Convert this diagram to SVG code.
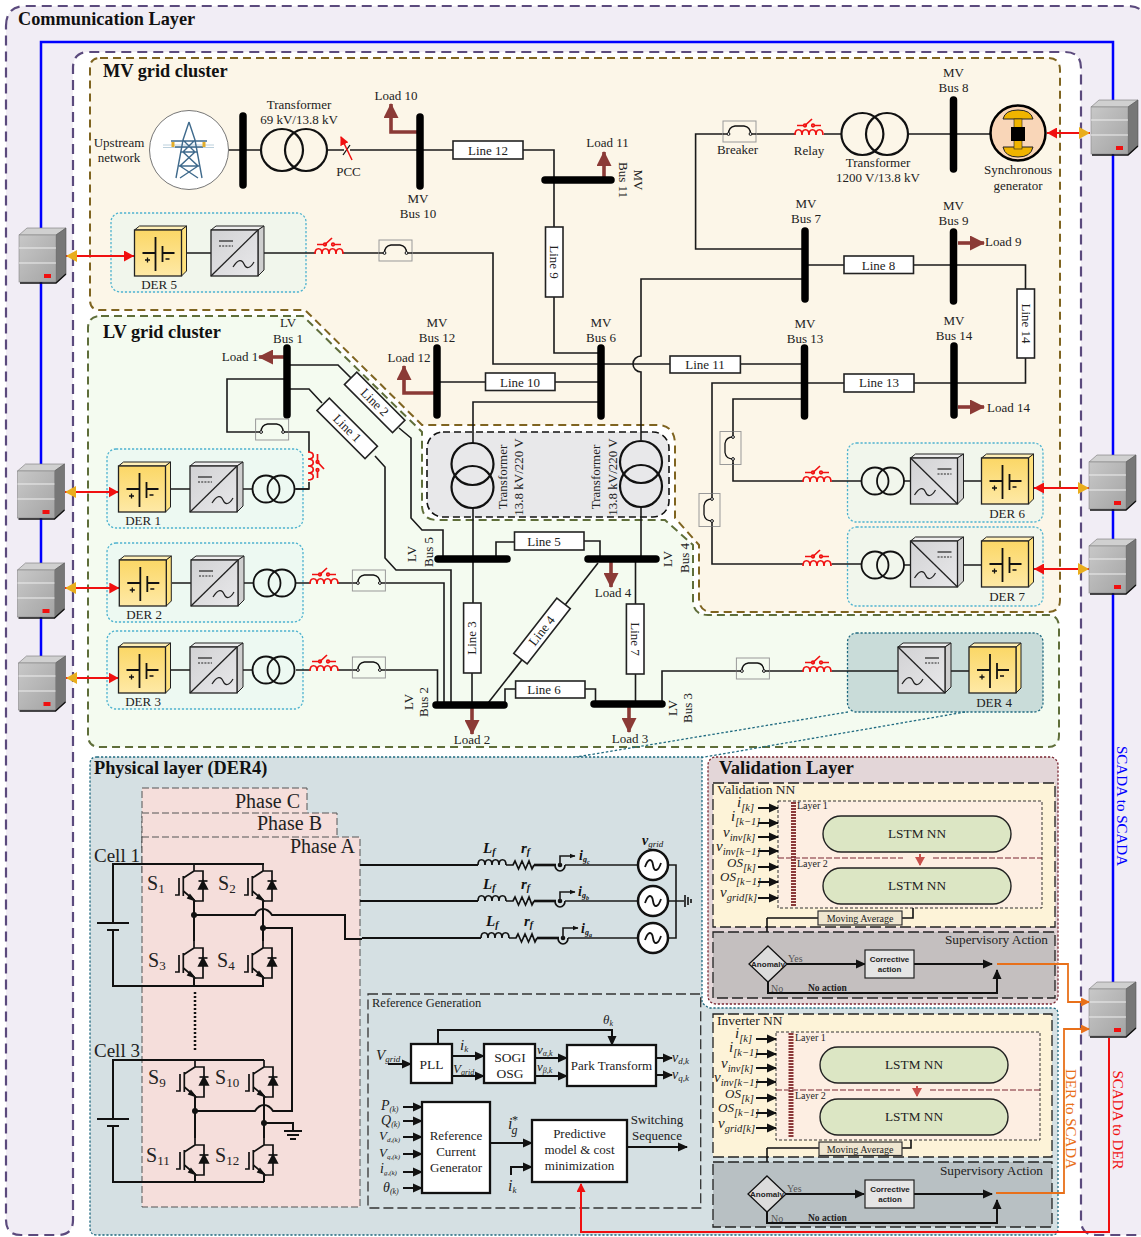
<svg xmlns="http://www.w3.org/2000/svg" width="1141" height="1237" viewBox="0 0 1141 1237">
<style>
text{font-family:"Liberation Serif",serif;fill:#222;font-size:13px}
.c{text-anchor:middle}.e{text-anchor:end}
.h{font-weight:bold;font-size:18.300px;fill:#111}
.i{font-style:italic}.bi{font-style:italic;font-weight:bold;fill:#111}
.s{font-family:"Liberation Sans",sans-serif;font-weight:bold;font-size:8px}
.w{fill:none;stroke:#1a1a1a;stroke-width:1.6}
.k{fill:none;stroke:#111;stroke-width:2}
.a{fill:none;stroke:#111;stroke-width:2;marker-end:url(#ab)}
.bus{stroke:#000;stroke-width:7.5;stroke-linecap:round;fill:none}
.ln{fill:#fff;stroke:#222;stroke-width:1.6}
.load{fill:none;stroke:#8b3a36;stroke-width:3.6;marker-end:url(#lh)}
.der{stroke:#4fb3cf;stroke-width:1.3;stroke-dasharray:2.2 1.8}
.link{fill:none;stroke:#f01010;stroke-width:2;marker-end:url(#rh);marker-start:url(#gh)}
.tx{fill:none;stroke:#111;stroke-width:2.2}
.blk{fill:#fff;stroke:#111;stroke-width:2.3}
.lstm{fill:#dce6c4;stroke:#222;stroke-width:1.4}
.lay{fill:#fdeee2;stroke:#333;stroke-width:1;stroke-dasharray:3 2}
.nn{stroke:#222;stroke-width:1.3;stroke-dasharray:11 4}
.ph{fill:#f5dedb;stroke:#555;stroke-width:1;stroke-dasharray:7 3}
.ma{fill:#efe6d0;stroke:#333;stroke-width:1.2}
.nnv{font-size:15px;font-style:italic}
.nno{font-size:13px;font-style:italic}
.sb{font-size:10.500px}
.big{font-size:20px}
.cell{font-size:19px}
.ls{font-size:13.300px}
.mva{font-size:10px}
.sup{font-size:13.300px}
</style>
<defs>
<linearGradient id="gs" x1="0" x2="1" y1="0" y2="1"><stop offset="0" stop-color="#c8c8c8"/><stop offset="1" stop-color="#a4a4a4"/></linearGradient>
<linearGradient id="gy" x1="0" x2="0" y1="0" y2="1"><stop offset="0" stop-color="#fbd766"/><stop offset="1" stop-color="#fee9a6"/></linearGradient>
<linearGradient id="gi" x1="0" x2="1" y1="0" y2="1"><stop offset="0" stop-color="#d2d2d4"/><stop offset="1" stop-color="#e8e8ea"/></linearGradient>
<marker id="ab" markerUnits="userSpaceOnUse" markerWidth="10" markerHeight="10" refX="9" refY="5" orient="auto"><path d="M0 0.5L10 5L0 9.5z" fill="#111"/></marker>
<marker id="as" markerUnits="userSpaceOnUse" markerWidth="6" markerHeight="6" refX="5.5" refY="3" orient="auto"><path d="M0 0.5L6 3L0 5.5z" fill="#111"/></marker>
<marker id="lh" markerUnits="userSpaceOnUse" markerWidth="16" markerHeight="15" refX="14" refY="7.5" orient="auto"><path d="M0 0L15 7.5L0 15z" fill="#8b3a36"/></marker>
<marker id="rh" markerUnits="userSpaceOnUse" markerWidth="10" markerHeight="11" refX="10" refY="5.5" orient="auto"><path d="M0 0L10 5.5L0 11z" fill="#f01010"/></marker>
<marker id="gh" markerUnits="userSpaceOnUse" markerWidth="11" markerHeight="12" refX="11" refY="6" orient="auto-start-reverse"><path d="M0 0L11 6L0 12z" fill="#e9ad1d"/></marker>
<marker id="oh" markerUnits="userSpaceOnUse" markerWidth="9" markerHeight="9" refX="8" refY="4.5" orient="auto"><path d="M0 0L9 4.5L0 9z" fill="#e8701a"/></marker>
<marker id="rr" markerUnits="userSpaceOnUse" markerWidth="9" markerHeight="9" refX="8" refY="4.5" orient="auto"><path d="M0 0L9 4.5L0 9z" fill="#f01010"/></marker>
<marker id="bh" markerUnits="userSpaceOnUse" markerWidth="9" markerHeight="10" refX="8" refY="5" orient="auto"><path d="M0 0L9 5L0 10z" fill="#c8504c"/></marker>
<g id="server">
<polygon points="0,7 8,0 47,0 37,7" fill="#d0d0d0" stroke="#777" stroke-width=".6"/>
<polygon points="37,7 47,0 47,46 37,55" fill="#777" stroke="#555" stroke-width=".6"/>
<rect x="0" y="7" width="37" height="47" fill="url(#gs)" stroke="#888" stroke-width=".6"/>
<path d="M0 20H37M0 35H37" stroke="#eee" stroke-width="1"/>
<path d="M1 55H37L47 46" stroke="#111" stroke-width="1.4" fill="none"/>
<rect x="25" y="46" width="7" height="4" fill="#f01010"/>
</g>
<g id="dc">
<polygon points="0,4 5,0 52,0 47,4" fill="#fff0b8" stroke="#222" stroke-width="1"/>
<polygon points="47,4 52,0 52,45 47,50" fill="#ffe27e" stroke="#222" stroke-width="1"/>
<rect x="0" y="4" width="47" height="46" fill="url(#gy)" stroke="#222" stroke-width="1.3"/>
<path d="M8 27H21M21 11V45M28 20V36M28 27H40" stroke="#111" stroke-width="1.8" fill="none"/>
<path d="M10.500 34H15.500M13 31.500V36.500M31 33H35" stroke="#111" stroke-width="1.3" fill="none"/>
</g>
<g id="inv">
<polygon points="0,4 5,0 53,0 47,4" fill="#eee" stroke="#222" stroke-width="1"/>
<polygon points="47,4 53,0 53,44 47,50" fill="#cfcfcf" stroke="#222" stroke-width="1"/>
<rect x="0" y="4" width="47" height="46" fill="url(#gi)" stroke="#222" stroke-width="1.3"/>
<path d="M0 50L47 4" stroke="#222" stroke-width="1.3"/>
<path d="M8 15H22" stroke="#222" stroke-width="1.2"/><path d="M8 20H22" stroke="#222" stroke-width="1.2" stroke-dasharray="2 1.200"/>
<path d="M22 41C27 33 31 33 33 38C35 43 39 43 43 36" stroke="#222" stroke-width="1.200" fill="none"/>
</g>
<g id="invr">
<polygon points="0,4 5,0 53,0 47,4" fill="#eee" stroke="#222" stroke-width="1"/>
<polygon points="47,4 53,0 53,44 47,50" fill="#cfcfcf" stroke="#222" stroke-width="1"/>
<rect x="0" y="4" width="47" height="46" fill="url(#gi)" stroke="#222" stroke-width="1.3"/>
<path d="M0 4L47 50" stroke="#222" stroke-width="1.3"/>
<path d="M27 15H41" stroke="#222" stroke-width="1.2"/><path d="M27 20H41" stroke="#222" stroke-width="1.2" stroke-dasharray="2 1.200"/>
<path d="M4 41C9 33 13 33 15 38C17 43 21 43 25 36" stroke="#222" stroke-width="1.200" fill="none"/>
</g>
<g id="relay" fill="none" stroke="#f01010" stroke-width="1.7">
<path d="M0 1C0 -6 7 -6 7 1M7 1C7 -6 14 -6 14 1M14 1C14 -6 21 -6 21 1M21 1C21 -6 28 -6 28 1"/>
<path d="M2 -8.500H9M19 -8.500H26M10 -8.500L17 -15"/>
<circle cx="10" cy="-8.500" r="1.300"/><circle cx="18" cy="-8.500" r="1.300"/>
</g>
<g id="brk">
<rect x="0" y="0" width="33" height="21" fill="none" stroke="#999" stroke-width="1"/>
<path d="M0 13H5.500M27.500 13H33" stroke="#1a1a1a" stroke-width="1.600"/>
<path d="M5.500 13Q5.500 6 12 5H21Q27.500 6 27.500 13" fill="none" stroke="#111" stroke-width="1.300"/>
<circle cx="5.500" cy="13" r="1.400" fill="#fff" stroke="#111"/><circle cx="27.500" cy="13" r="1.400" fill="#fff" stroke="#111"/>
</g>
<g id="igbt" fill="none" stroke="#111" stroke-width="1.7">
<path d="M0 0V7H9V37H0M0 7L-10.700 14M-10.700 27L0 36V37"/>
<path d="M-10.700 12V32M-15 14V31H-19"/>
<path d="M4.500 17H13.500"/>
<path d="M9 17L4.800 25H13.200z" fill="#111"/>
<path d="M-4 31L0 36L-6 34z" fill="#111"/>
</g>
<g id="ac"><circle r="15" fill="#fff" stroke="#111" stroke-width="2.500"/><path d="M-8 2C-5 -7 -1 -7 0 0C1 7 5 7 8 -2" fill="none" stroke="#111" stroke-width="1.800"/></g>
<g id="rl" fill="none" stroke="#111" stroke-width="1.700">
<path d="M0 0C0 -7 7 -7 7 0C7 -7 14 -7 14 0C14 -7 21 -7 21 0C21 -7 28 -7 28 0"/>
<path d="M28 0H35L37 -4L40.500 4L44 -4L47.500 4L51 -4L54 4L56 0"/>
<path d="M56 0H78" stroke-width="2.600"/>
<path d="M77 0A5 6 0 0 0 87 0" /></g>
</defs>

<g id="background">
<rect x="0" y="0" width="1141" height="1237" fill="#fff"/>
<path d="M6 26Q6 6 26 6H1128Q1146 6 1146 24V1235H1096Q1081 1235 1081 1220V68Q1081 52 1065 52H89Q73 52 73 68V1220Q73 1235 58 1235H21Q6 1235 6 1220Z" fill="#f1edf5" stroke="#5b4a7d" stroke-width="2.200" stroke-dasharray="10 6"/>
<path d="M41 660V42H1113V985" fill="none" stroke="#0000ff" stroke-width="2.500"/>
</g>

<g id="clusters">
<path id="mv-cluster" d="M100 58H1048Q1060 58 1060 70V600Q1060 612 1048 612H712Q699 612 699 598V545L675 518V445Q675 425 657 425H422L305 310H100Q90 310 90 300V68Q90 58 100 58Z" fill="#fcf6e8" stroke="#7f6420" stroke-width="2" stroke-dasharray="8 5"/>
<path id="lv-cluster" d="M101 316H303L422 432V505Q422 520 437 520H665L693 545V600Q693 615 708 615H1048Q1059 615 1059 628V735Q1059 747 1048 747H100Q88 747 88 735V328Q88 316 101 316Z" fill="#f4fbf0" stroke="#5f6e3a" stroke-width="2" stroke-dasharray="8 5"/>
<rect id="tx-box" x="427" y="432" width="242" height="85" rx="16" fill="#e8e8ea" stroke="#111" stroke-width="1.600" stroke-dasharray="7 4"/>
<text class="h" x="18" y="25">Communication Layer</text>
<text class="h" x="103" y="77">MV grid cluster</text>
<text class="h" x="103" y="338">LV grid cluster</text>
</g>

<g id="der-boxes">
<rect class="der" x="111" y="213" width="195" height="79" rx="9" fill="#f1f6ec"/>
<rect class="der" x="107" y="449" width="196" height="79" rx="9" fill="#edf9f2"/>
<rect class="der" x="107" y="543" width="196" height="79" rx="9" fill="#edf9f2"/>
<rect class="der" x="107" y="631" width="196" height="78" rx="9" fill="#edf9f2"/>
<rect class="der" x="847.500" y="443" width="195.500" height="79" rx="9" fill="#f1f6ec"/>
<rect class="der" x="847.500" y="527" width="195.500" height="79" rx="9" fill="#f1f6ec"/>
<rect x="847.500" y="633" width="195.500" height="79" rx="9" fill="#c9dcd9" stroke="#1f6a80" stroke-width="1.300" stroke-dasharray="2.200 1.800"/>
</g>

<g id="connectors">
<path class="w" d="M228 150H262M327 150H344M350 150H453M523 150H554V227M554 297V353H601"/>
<path class="w" d="M264 253H315M343 253H379M412 253H493V364H670M740 364H805"/>
<path class="w" d="M437 382H485.500M555 382H601"/>
<path class="w" d="M473 443V402H601"/>
<path class="w" d="M641 440V372A8 8 0 0 1 641 356V279H805"/>
<path class="w" d="M723 134H695.600V249H805M756 134H795M824 134H841M908 134H990"/>
<path class="w" d="M805 265H844M913.500 265H1025.500V289M1025.500 358V383H914M844 383H712V494M712 526V564H803M831.500 564H861"/>
<path class="w" d="M805 399H733V432M733 463V481H803M831.500 481H861"/>
<path class="w" d="M287 379H227V432H255.600M288.600 432H309V452M309 482V489H296"/>
<path class="w" d="M287 389H309L322 403M375 456L385 467V558L396 570H451V705"/>
<path class="w" d="M287 365H338L351 378M399 428L411 438V518L422 530H443V559"/>
<path class="w" d="M496 559V542H514.500M584 541H600V559"/>
<path class="w" d="M473 508V603M472 673V705"/>
<path class="w" d="M641 507V559M635.500 559V604M635.500 674V704"/>
<path class="w" d="M486.500 705L598 563"/>
<path class="w" d="M505 705V689H515.600M585 689H595.500V704"/>
<path class="w" d="M338 583H352.400M385 583H444V705M338 670H352.400M385 670H437.500V705"/>
<path class="w" d="M662 704V671H736.400M768.800 671H803M831.500 671H898M945 671H969"/>
<path class="w" d="M296 583H310M296 670H310M171 489H190M237 489H252M172 583H191M238 583H253M171 670H190M237 670H252M904 481H910.500M957 481H981.500M904 565H910.500M957 565H981.500M171 253H211M258 253H264"/>
<path class="w" d="M295 489H309"/>

<path class="load" d="M420 132H391V104"/>
<path class="load" d="M604 180V152"/>
<path class="load" d="M958 243H984"/>
<path class="load" d="M958 407H984"/>
<path class="load" d="M287 357H259"/>
<path class="load" d="M437 393H404V366"/>
<path class="load" d="M472 705V734"/>
<path class="load" d="M611 559V587"/>
<path class="load" d="M629 704V732"/>

<path class="link" d="M66 256H134"/>
<path class="link" d="M65 492H118.500"/>
<path class="link" d="M65 588H119.300"/>
<path class="link" d="M66 678H118.500"/>
<path class="link" d="M1090 133H1047"/>
<path class="link" d="M1089 488H1034"/>
<path class="link" d="M1089 569H1034"/>
<path d="M848 712L570 758M965 712L699 758" fill="none" stroke="#1f6a80" stroke-width="1.300" stroke-dasharray="2.500 2"/>
</g>

<g id="upstream"><circle cx="189" cy="150" r="39.500" fill="#fff" stroke="#777" stroke-width="1"/>
<path d="M163 145H214M163 147.500H214" stroke="#bcd0dc" stroke-width="1"/>
<path d="M189 122L183 140L176 178M189 122L195 140L202 178M171 141H207M175 147H203M183 140L195 152L180 166L198 178M195 140L183 152L198 166L180 178M181 152H197M179 166H199" fill="none" stroke="#3f6a8c" stroke-width="1.400"/>
<rect x="171.500" y="142" width="3" height="5" fill="#e2ad2a"/><rect x="202.500" y="142" width="3" height="5" fill="#e2ad2a"/>
<text class="c" x="119" y="147">Upstream</text><text class="c" x="119" y="162">network</text></g>
<g id="bus-up"><path class="bus" d="M243 116V185"/></g>
<g id="tx-69"><circle class="tx" cx="282" cy="150" r="21"/><circle class="tx" cx="306" cy="150" r="21"/><text class="c" x="299" y="109">Transformer</text><text class="c" x="299" y="124">69 kV/13.8 kV</text></g>
<g id="pcc"><path d="M343 155L350 145" stroke="#111" stroke-width="1.300"/><path d="M352 160L341 137" stroke="#f01010" stroke-width="1.500" marker-end="url(#rr)"/><text class="c" x="348.500" y="176">PCC</text></g>
<g id="bus10"><path class="bus" d="M420 117V186"/><text class="c" x="418" y="203">MV</text><text class="c" x="418" y="218">Bus 10</text><text class="c" x="396" y="100">Load 10</text></g>
<g id="line12"><rect class="ln" x="453" y="141" width="70" height="18"/><text class="c" x="488" y="155">Line 12</text></g>
<g id="bus11"><path class="bus" d="M545 180H611"/><text class="c" x="607.500" y="147">Load 11</text><text class="c" transform="translate(634 180) rotate(90)">MV</text><text class="c" transform="translate(619 180) rotate(90)">Bus 11</text></g>
<g id="line9"><rect class="ln" x="545.500" y="227" width="17.500" height="70"/><text class="c" transform="translate(550 262) rotate(90)">Line 9</text></g>
<g id="der5"><use href="#dc" x="134.500" y="226"/><use href="#inv" x="211" y="226"/><use href="#relay" x="315" y="253"/><use href="#brk" x="379" y="240"/><text class="c" x="159" y="289">DER 5</text></g>
<g id="server-der5"><use href="#server" x="19" y="228"/></g>
<g id="breaker-top"><use href="#brk" x="723" y="121"/><text class="c" x="737.500" y="154">Breaker</text></g>
<g id="relay-top"><use href="#relay" x="795" y="134"/><text class="c" x="809" y="155">Relay</text></g>
<g id="tx-1200"><circle class="tx" cx="862.400" cy="134" r="21"/><circle class="tx" cx="887" cy="134" r="21"/><text class="c" x="878" y="167">Transformer</text><text class="c" x="878" y="182">1200 V/13.8 kV</text></g>
<g id="bus8"><path class="bus" d="M953.500 100V169"/><text class="c" x="953.500" y="77">MV</text><text class="c" x="953.500" y="92">Bus 8</text></g>
<g id="generator"><circle cx="1018" cy="133" r="27.500" fill="#f9d6b8" stroke="#000" stroke-width="2.500"/>
<path d="M1003 119Q1005 110 1018 110Q1031 110 1033 119ZM1003 147Q1005 157 1018 157Q1031 157 1033 147Z" fill="#f0b400" stroke="#222"/>
<rect x="1014" y="119" width="8" height="30" fill="#f0b400" stroke="#222" stroke-width=".6"/><rect x="1011" y="127" width="14" height="14" fill="#000"/>
<text class="c" x="1018" y="174">Synchronous</text><text class="c" x="1018" y="190">generator</text></g>
<g id="server-sg"><use href="#server" x="1091" y="100"/></g>
<g id="bus7"><path class="bus" d="M805 231V299"/><text class="c" x="806" y="208">MV</text><text class="c" x="806" y="223">Bus 7</text></g>
<g id="bus9"><path class="bus" d="M953.500 232V301"/><text class="c" x="953.500" y="210">MV</text><text class="c" x="953.500" y="225">Bus 9</text><text x="985" y="246">Load 9</text></g>
<g id="line8"><rect class="ln" x="844" y="256" width="69.500" height="17.500"/><text class="c" x="878.500" y="269.500">Line 8</text></g>
<g id="line14"><rect class="ln" x="1017" y="289" width="17.500" height="69"/><text class="c" transform="translate(1021.500 323.500) rotate(90)">Line 14</text></g>
<g id="bus6"><path class="bus" d="M601 348V416"/><text class="c" x="601" y="327">MV</text><text class="c" x="601" y="342">Bus 6</text></g>
<g id="bus13"><path class="bus" d="M804.500 348V416"/><text class="c" x="805" y="328">MV</text><text class="c" x="805" y="343">Bus 13</text></g>
<g id="bus14"><path class="bus" d="M954 346V415"/><text class="c" x="954" y="325">MV</text><text class="c" x="954" y="340">Bus 14</text><text x="987" y="412">Load 14</text></g>
<g id="line11"><rect class="ln" x="670" y="356" width="70.400" height="17"/><text class="c" x="705" y="369">Line 11</text></g>
<g id="line13"><rect class="ln" x="844" y="374" width="70" height="18"/><text class="c" x="879" y="387">Line 13</text></g>
<g id="line10"><rect class="ln" x="485.500" y="373" width="69.500" height="17.500"/><text class="c" x="520" y="386.500">Line 10</text></g>
<g id="bus12"><path class="bus" d="M437 348V415"/><text class="c" x="437" y="327">MV</text><text class="c" x="437" y="342">Bus 12</text><text class="c" x="409" y="362">Load 12</text></g>
<g id="bus1"><path class="bus" d="M287 348V415"/><text class="c" x="288" y="327">LV</text><text class="c" x="288" y="343">Bus 1</text><text class="c" x="240" y="361">Load 1</text></g>
<g id="line2"><rect class="ln" x="-34" y="-9" width="68" height="17.500" transform="translate(374.500 402.500) rotate(45)"/><text class="c" transform="translate(374.500 402.500) rotate(45) translate(0 4)">Line 2</text></g>
<g id="line1"><rect class="ln" x="-34" y="-9" width="68" height="17.500" transform="translate(347 428.500) rotate(45)"/><text class="c" transform="translate(347 428.500) rotate(45) translate(0 4)">Line 1</text></g>
<g id="tx-lv1"><circle class="tx" cx="472.500" cy="464" r="21"/><circle class="tx" cx="472.500" cy="487" r="21"/><text class="c" transform="translate(507 477) rotate(-90)">Transformer</text><text class="c" transform="translate(523 477) rotate(-90)">13.8 kV/220 V</text></g>
<g id="tx-lv2"><circle class="tx" cx="641" cy="462" r="21"/><circle class="tx" cx="641" cy="486" r="21"/><text class="c" transform="translate(600 477) rotate(-90)">Transformer</text><text class="c" transform="translate(617 477) rotate(-90)">13.8 kV/220 V</text></g>
<g id="breaker-der6"><use href="#brk" transform="translate(720 464.500) rotate(-90)"/></g>
<g id="breaker-der7"><use href="#brk" transform="translate(699 526.500) rotate(-90)"/></g>
<g id="der6"><use href="#relay" x="803" y="481"/><circle class="tx" style="stroke-width:1.800" cx="875" cy="481" r="13.500"/><circle class="tx" style="stroke-width:1.800" cx="890.500" cy="481" r="13.500"/><use href="#invr" x="910.500" y="454"/><use href="#dc" x="981.500" y="454"/><text class="c" x="1007" y="518">DER 6</text></g>
<g id="der7"><use href="#relay" x="803" y="565"/><circle class="tx" style="stroke-width:1.800" cx="875" cy="565" r="13.500"/><circle class="tx" style="stroke-width:1.800" cx="890.500" cy="565" r="13.500"/><use href="#invr" x="910.500" y="537"/><use href="#dc" x="981.500" y="537"/><text class="c" x="1007" y="601">DER 7</text></g>
<g id="der4"><use href="#relay" x="803" y="671"/><use href="#brk" x="736.400" y="658"/><use href="#invr" x="898" y="643"/><use href="#dc" x="969" y="643"/><text class="c" x="994" y="707">DER 4</text></g>
<g id="server-der6"><use href="#server" x="1089" y="455"/></g>
<g id="server-der7"><use href="#server" x="1089" y="539"/></g>
<g id="server-der1"><use href="#server" x="17.500" y="464"/></g>
<g id="server-der2"><use href="#server" x="17.500" y="563"/></g>
<g id="server-der3"><use href="#server" x="18.500" y="656"/></g>
<g id="der1"><use href="#dc" x="118.500" y="462"/><use href="#inv" x="190" y="462"/><circle class="tx" style="stroke-width:1.800" cx="266" cy="489" r="13.500"/><circle class="tx" style="stroke-width:1.800" cx="281" cy="489" r="13.500"/><use href="#relay" transform="translate(309 452) rotate(90)"/><use href="#brk" x="255.600" y="419"/><text class="c" x="143" y="525">DER 1</text></g>
<g id="der2"><use href="#dc" x="119.300" y="556"/><use href="#inv" x="191" y="556"/><circle class="tx" style="stroke-width:1.800" cx="267" cy="583" r="13.500"/><circle class="tx" style="stroke-width:1.800" cx="282" cy="583" r="13.500"/><use href="#relay" x="310" y="583"/><use href="#brk" x="352.400" y="570"/><text class="c" x="144" y="619">DER 2</text></g>
<g id="der3"><use href="#dc" x="118.500" y="643"/><use href="#inv" x="190" y="643"/><circle class="tx" style="stroke-width:1.800" cx="266" cy="670" r="13.500"/><circle class="tx" style="stroke-width:1.800" cx="281" cy="670" r="13.500"/><use href="#relay" x="310" y="670"/><use href="#brk" x="352.400" y="657"/><text class="c" x="143" y="706">DER 3</text></g>
<g id="bus5"><path class="bus" d="M438 559H507"/><text class="c" transform="translate(416 554) rotate(-90)">LV</text><text class="c" transform="translate(433 552) rotate(-90)">Bus 5</text></g>
<g id="bus4"><path class="bus" d="M588 559H656"/><text class="c" transform="translate(672 559) rotate(-90)">LV</text><text class="c" transform="translate(689 558) rotate(-90)">Bus 4</text><text class="c" x="613" y="597">Load 4</text></g>
<g id="bus2"><path class="bus" d="M436 705H504"/><text class="c" transform="translate(413 702) rotate(-90)">LV</text><text class="c" transform="translate(428 702) rotate(-90)">Bus 2</text><text class="c" x="472" y="744">Load 2</text></g>
<g id="bus3"><path class="bus" d="M594 704H662"/><text class="c" transform="translate(677 708) rotate(-90)">LV</text><text class="c" transform="translate(692 708) rotate(-90)">Bus 3</text><text class="c" x="630" y="743">Load 3</text></g>
<g id="line5"><rect class="ln" x="514.500" y="532" width="69.500" height="18"/><text class="c" x="544" y="546">Line 5</text></g>
<g id="line6"><rect class="ln" x="515.600" y="681" width="69.400" height="17"/><text class="c" x="544" y="694">Line 6</text></g>
<g id="line3"><rect class="ln" x="463.600" y="603" width="17.400" height="70"/><text class="c" transform="translate(476 638) rotate(-90)">Line 3</text></g>
<g id="line7"><rect class="ln" x="626.400" y="604" width="17.600" height="70"/><text class="c" transform="translate(631 639) rotate(90)">Line 7</text></g>
<g id="line4"><rect class="ln" x="-35" y="-8.500" width="70" height="17" transform="translate(542 631) rotate(-52)"/><text class="c" transform="translate(542 631) rotate(-52) translate(0 4)">Line 4</text></g>

<g id="physical-layer">
<path d="M97 757H702V1003L709 1008H1052Q1058 1008 1058 1014V1229Q1058 1235 1052 1235H97Q90 1235 90 1228V764Q90 757 97 757Z" fill="#d5e0e3" stroke="#1f6a80" stroke-width="1.300" stroke-dasharray="2.200 1.800"/>
<text class="h" x="94" y="774">Physical layer (DER4)</text>
<rect class="ph" x="142" y="788" width="165" height="60"/>
<rect class="ph" x="142" y="813" width="195" height="60"/>
<rect class="ph" x="142" y="837" width="218" height="370"/>
<text class="e big" x="300" y="808">Phase C</text>
<text class="e big" x="322" y="830">Phase B</text>
<text class="e big" x="355" y="853">Phase A</text>
<text class="cell" x="94" y="862">Cell 1</text>
<text class="cell" x="94" y="1057">Cell 3</text>
</g>
<g id="inverter-circuit">
<path class="k" d="M264 864H113V923M97 923H129M107 930H119M113 930V986H264"/>
<path class="k" d="M264 1060H113V1119M97 1119H129M107 1126H119M113 1126V1182H264"/>
<path class="k" d="M194 901V941M194 978V986M263 901V941M263 978V986M195 1097V1138M195 1175V1182M264 1097V1138M264 1175V1182"/>
<path class="k" d="M194 915H255Q258 909 263 909Q268 909 272 915H345V939H362"/>
<path class="k" d="M263 928H292V1111H273Q269 1105 264 1105Q259 1105 255 1111H195"/>
<path class="k" d="M264 1123H293V1131M284 1131H302M287 1135H299M290 1139H296"/>
<path d="M195 992V1050" stroke="#111" stroke-width="2.500" stroke-dasharray="2 2"/>
<circle cx="194" cy="915" r="3" fill="#111"/><circle cx="263" cy="928" r="3" fill="#111"/><circle cx="195" cy="1111" r="3" fill="#111"/><circle cx="264" cy="1123" r="3" fill="#111"/>
<use href="#igbt" x="194" y="864"/><use href="#igbt" x="263" y="864"/><use href="#igbt" x="194" y="941"/><use href="#igbt" x="263" y="941"/>
<use href="#igbt" x="195" y="1060"/><use href="#igbt" x="264" y="1060"/><use href="#igbt" x="195" y="1138"/><use href="#igbt" x="264" y="1138"/>
<text class="big" x="147" y="890">S<tspan dy="3" font-size="13">1</tspan></text>
<text class="big" x="218" y="890">S<tspan dy="3" font-size="13">2</tspan></text>
<text class="big" x="148" y="967">S<tspan dy="3" font-size="13">3</tspan></text>
<text class="big" x="217" y="967">S<tspan dy="3" font-size="13">4</tspan></text>
<text class="big" x="148" y="1084">S<tspan dy="3" font-size="13">9</tspan></text>
<text class="big" x="215" y="1084">S<tspan dy="3" font-size="13">10</tspan></text>
<text class="big" x="146" y="1162">S<tspan dy="3" font-size="13">11</tspan></text>
<text class="big" x="215" y="1162">S<tspan dy="3" font-size="13">12</tspan></text>
</g>
<g id="grid-lines">
<path class="k" d="M360 865H478M360 901H478M362 938H481"/>
<use href="#rl" x="478" y="865"/><use href="#rl" x="478" y="901"/><use href="#rl" x="481" y="938"/>
<path class="w" d="M565 865H638M565 901H638M568 938H638M668 865H676V938H668M668 901H684"/>
<path d="M685 895V907M688 897V905M691 899V903" stroke="#111" stroke-width="1.600"/>
<circle cx="560" cy="865" r="2.300" fill="#111"/><circle cx="560" cy="901" r="2.300" fill="#111"/><circle cx="563" cy="938" r="2.300" fill="#111"/>
<path class="w" style="marker-end:url(#as)" d="M560 865V856H575"/><path class="w" style="marker-end:url(#as)" d="M560 901V892H575"/><path class="w" style="marker-end:url(#as)" d="M563 938V928H578"/>
<use href="#ac" x="653" y="865"/><use href="#ac" x="653" y="901"/><use href="#ac" x="653" y="938"/>
<text class="bi" x="483" y="853" style="font-size:15px">L<tspan dy="2" font-size="10">f</tspan></text><text class="bi" x="521" y="853" style="font-size:15px">r<tspan dy="2" font-size="10">f</tspan></text>
<text class="bi" x="483" y="889" style="font-size:15px">L<tspan dy="2" font-size="10">f</tspan></text><text class="bi" x="521" y="889" style="font-size:15px">r<tspan dy="2" font-size="10">f</tspan></text>
<text class="bi" x="486" y="926" style="font-size:15px">L<tspan dy="2" font-size="10">f</tspan></text><text class="bi" x="524" y="926" style="font-size:15px">r<tspan dy="2" font-size="10">f</tspan></text>
<text class="bi" x="579" y="860" style="font-size:14px">i<tspan dy="2" font-size="8">g</tspan><tspan dy="2" font-size="6">c</tspan></text>
<text class="bi" x="578" y="896" style="font-size:14px">i<tspan dy="2" font-size="8">g</tspan><tspan dy="2" font-size="6">b</tspan></text>
<text class="bi" x="581" y="933" style="font-size:14px">i<tspan dy="2" font-size="8">g</tspan><tspan dy="2" font-size="6">a</tspan></text>
<text class="bi" x="642" y="845" style="font-size:14px">v<tspan dy="2" font-size="9" font-weight="normal">grid</tspan></text>
</g>
<g id="reference-generation">
<rect x="368" y="994" width="332.700" height="214" fill="none" stroke="#333" stroke-width="1.300" stroke-dasharray="10 4"/>
<text x="372" y="1007" style="font-size:12.500px">Reference Generation</text>
<path class="a" d="M388 1064H411"/><path class="a" d="M438 1044V1030H612V1045"/>
<path class="a" d="M452 1056H484"/><path class="a" d="M452 1076H484"/><path class="a" d="M535 1058H567"/><path class="a" d="M535 1076H567"/>
<path class="a" d="M656 1058H672"/><path class="a" d="M656 1075H672"/>
<path class="a" d="M403 1107H422"/><path class="a" d="M403 1121H422"/><path class="a" d="M403 1137H422"/><path class="a" d="M403 1154H422"/><path class="a" d="M403 1172H422"/><path class="a" d="M403 1188H422"/>
<path class="a" d="M490 1143H532"/><path class="a" d="M511 1175V1167H532"/><path class="a" d="M627 1147H687"/>
<g id="pll"><rect class="blk" x="411" y="1044" width="41" height="39"/><text class="c" x="431.500" y="1069" style="font-size:13.500px">PLL</text></g>
<g id="sogi"><rect class="blk" x="484" y="1044" width="51" height="39"/><text class="c" x="510" y="1062" style="font-size:13.500px">SOGI</text><text class="c" x="510" y="1078" style="font-size:13.500px">OSG</text></g>
<g id="park"><rect class="blk" x="567" y="1045" width="89" height="41"/><text class="c" x="611.500" y="1070">Park Transform</text></g>
<g id="rcg"><rect class="blk" x="422" y="1102" width="68" height="91"/><text class="c" x="456" y="1140">Reference</text><text class="c" x="456" y="1156">Current</text><text class="c" x="456" y="1172">Generator</text></g>
<g id="pred"><rect class="blk" x="532" y="1120" width="95" height="62"/><text class="c" x="579.500" y="1138">Predictive</text><text class="c" x="579.500" y="1154">model &amp; cost</text><text class="c" x="579.500" y="1170">minimization</text></g>
<text class="c" x="657" y="1124">Switching</text><text class="c" x="657" y="1140">Sequence</text>
<text class="i" x="376" y="1060" style="font-size:15px">V<tspan dy="2" font-size="9">grid</tspan></text>
<text class="i" x="603" y="1024" style="font-size:13px">θ<tspan dy="2" font-size="8">k</tspan></text>
<text class="i" x="460" y="1050" style="font-size:15px">i<tspan dy="2" font-size="9">k</tspan></text>
<text class="i" x="453" y="1073" style="font-size:13px">V<tspan dy="2" font-size="8">grid</tspan></text>
<text class="i" x="537" y="1054" style="font-size:13px">v<tspan dy="2" font-size="8">α,k</tspan></text>
<text class="i" x="537" y="1071" style="font-size:13px">v<tspan dy="2" font-size="8">β,k</tspan></text>
<text class="i" x="672" y="1062" style="font-size:14px">v<tspan dy="2" font-size="9">d,k</tspan></text>
<text class="i" x="672" y="1079" style="font-size:14px">v<tspan dy="2" font-size="9">q,k</tspan></text>
<text class="i" x="381" y="1110" style="font-size:14px">P<tspan dy="2" font-size="8">(k)</tspan></text>
<text class="i" x="381" y="1125" style="font-size:14px">Q<tspan dy="2" font-size="8">(k)</tspan></text>
<text class="i" x="379" y="1140" style="font-size:13px">V<tspan dy="2" font-size="7">d,(k)</tspan></text>
<text class="i" x="379" y="1157" style="font-size:13px">V<tspan dy="2" font-size="7">q,(k)</tspan></text>
<text class="i" x="380" y="1173" style="font-size:14px">i<tspan dy="2" font-size="7">g,(k)</tspan></text>
<text class="i" x="383" y="1192" style="font-size:14px">θ<tspan dy="2" font-size="8">(k)</tspan></text>
<text class="i" x="508" y="1129" style="font-size:16px">i<tspan dy="-5" dx="-1" font-size="12">*</tspan><tspan dy="10" dx="-6" font-size="12">g</tspan></text>
<text class="i" x="508" y="1191" style="font-size:16px">i<tspan dy="2" font-size="9">k</tspan></text>
</g>

<g id="validation-layer">
<rect x="708" y="757" width="350" height="247" rx="8" fill="#e3d6d8" stroke="#7a2530" stroke-width="1.300" stroke-dasharray="2.200 1.800"/>
<text class="h" x="719" y="774" style="font-size:18.700px">Validation Layer</text>
<rect class="nn" x="713" y="783" width="342" height="144" fill="#fdf3d8"/>
<text x="717" y="794" style="font-size:13.500px">Validation NN</text>
<rect class="lay" x="778" y="801" width="264" height="107"/>
<path d="M793.500 802V907" stroke="#8b3a3a" stroke-width="5" stroke-dasharray="2 1"/>
<path d="M778 858H903M933 858H1042" stroke="#7a2530" stroke-width="1.200" stroke-dasharray="6 2" fill="none"/>
<path d="M920 854V865" stroke="#c8504c" stroke-width="2" marker-end="url(#bh)"/>
<text x="797" y="809" style="font-size:10px">Layer 1</text><text x="797" y="867" style="font-size:10px">Layer 2</text>
<rect class="lstm" x="823" y="816" width="188" height="36" rx="18"/><rect class="lstm" x="823" y="868" width="188" height="36" rx="18"/>
<text class="c ls" x="917" y="838">LSTM NN</text><text class="c ls" x="917" y="890">LSTM NN</text>
<path class="a" d="M758 808H778"/><path class="a" d="M758 823H778"/><path class="a" d="M758 837H778"/><path class="a" d="M758 851H778"/><path class="a" d="M758 867H778"/><path class="a" d="M758 882H778"/><path class="a" d="M758 898H778"/>
<text class="nnv" x="737" y="807">i<tspan class="sb" dy="4">[k]</tspan></text>
<text class="nnv" x="731" y="821">i<tspan class="sb" dy="4">[k−1]</tspan></text>
<text class="nnv" x="723" y="837">v<tspan class="sb" dy="4">inv[k]</tspan></text>
<text class="nnv" x="716" y="851">v<tspan class="sb" dy="4">inv[k−1]</tspan></text>
<text class="nno" x="727" y="867">OS<tspan class="sb" dy="4">[k]</tspan></text>
<text class="nno" x="720" y="881">OS<tspan class="sb" dy="4">[k−1]</tspan></text>
<text class="nnv" x="720" y="897">v<tspan class="sb" dy="4">grid[k]</tspan></text>
<path class="k" style="stroke-width:1.600" d="M913 908V918H902M818 918H767"/><path class="a" style="stroke-width:1.600" d="M767 918V945"/>
<rect class="ma" x="818" y="911" width="84" height="14"/><text class="c mva" x="860" y="921.500">Moving Average</text>
<rect class="nn" x="713" y="932" width="342" height="66" fill="#c4bfbf"/>
<text class="e sup" x="1048" y="944">Supervisory Action</text>
<path class="a" d="M787 964H865"/><path class="a" d="M914 964H992"/><path class="a" d="M768 982V993H997V970"/>
<polygon points="768,946 787,964 768,982 749,964" fill="#dcdcdc" stroke="#111" stroke-width="1.300"/>
<text class="c s" x="768" y="967">Anomaly</text>
<rect x="865" y="950" width="49" height="28" fill="#e5e5e5" stroke="#222" stroke-width="1.200"/>
<text class="c s" x="889.500" y="962">Corrective</text><text class="c s" x="889.500" y="972">action</text>
<text x="788" y="962" style="font-size:10px;fill:#555">Yes</text><text x="771" y="992" style="font-size:10px;fill:#555">No</text>
<text x="808" y="991" style="font-size:9.500px;font-weight:bold">No action</text>
</g>

<g id="inverter-nn">
<rect class="nn" x="713" y="1014" width="339" height="143" fill="#fdf3d8"/>
<text x="717" y="1025" style="font-size:13.500px">Inverter NN</text>
<rect class="lay" x="776" y="1032" width="264" height="108"/>
<path d="M791 1033V1138" stroke="#8b3a3a" stroke-width="5" stroke-dasharray="2 1"/>
<path d="M776 1090H900M930 1090H1040" stroke="#7a2530" stroke-width="1.200" stroke-dasharray="6 2" fill="none"/>
<path d="M917 1086V1096" stroke="#c8504c" stroke-width="2" marker-end="url(#bh)"/>
<text x="795" y="1041" style="font-size:10px">Layer 1</text><text x="795" y="1099" style="font-size:10px">Layer 2</text>
<rect class="lstm" x="820" y="1047" width="188" height="36" rx="18"/><rect class="lstm" x="820" y="1099" width="188" height="36" rx="18"/>
<text class="c ls" x="914" y="1069">LSTM NN</text><text class="c ls" x="914" y="1121">LSTM NN</text>
<path class="a" d="M756 1039H776"/><path class="a" d="M756 1054H776"/><path class="a" d="M756 1068H776"/><path class="a" d="M756 1082H776"/><path class="a" d="M756 1098H776"/><path class="a" d="M756 1113H776"/><path class="a" d="M756 1128H776"/>
<text class="nnv" x="735" y="1038">i<tspan class="sb" dy="4">[k]</tspan></text>
<text class="nnv" x="729" y="1052">i<tspan class="sb" dy="4">[k−1]</tspan></text>
<text class="nnv" x="721" y="1068">v<tspan class="sb" dy="4">inv[k]</tspan></text>
<text class="nnv" x="714" y="1082">v<tspan class="sb" dy="4">inv[k−1]</tspan></text>
<text class="nno" x="725" y="1098">OS<tspan class="sb" dy="4">[k]</tspan></text>
<text class="nno" x="718" y="1112">OS<tspan class="sb" dy="4">[k−1]</tspan></text>
<text class="nnv" x="718" y="1128">v<tspan class="sb" dy="4">grid[k]</tspan></text>
<path class="k" style="stroke-width:1.600" d="M911 1140V1148H902M819 1148H767"/><path class="a" style="stroke-width:1.600" d="M767 1148V1175"/>
<rect class="ma" x="819" y="1142" width="83" height="13.500"/><text class="c mva" x="860" y="1152.500">Moving Average</text>
<rect class="nn" x="713" y="1162" width="339" height="65" fill="#b8c0c3"/>
<text class="e sup" x="1043" y="1175">Supervisory Action</text>
<path class="a" d="M786 1194H864"/><path class="a" d="M914 1194H992"/><path class="a" d="M767 1212V1223H997V1200"/>
<polygon points="767,1176 786,1194 767,1212 748,1194" fill="#dcdcdc" stroke="#111" stroke-width="1.300"/>
<text class="c s" x="767" y="1197">Anomaly</text>
<rect x="865" y="1180" width="49" height="28" fill="#e5e5e5" stroke="#222" stroke-width="1.200"/>
<text class="c s" x="890" y="1192">Corrective</text><text class="c s" x="890" y="1202">action</text>
<text x="787" y="1192" style="font-size:10px;fill:#555">Yes</text><text x="771" y="1222" style="font-size:10px;fill:#555">No</text>
<text x="808" y="1221" style="font-size:9.500px;font-weight:bold">No action</text>
</g>

<g id="server-main"><use href="#server" x="1089" y="982"/></g>
<g id="comm-links">
<path d="M997 964H1068V1002H1089" fill="none" stroke="#e8701a" stroke-width="1.800" marker-end="url(#oh)"/>
<path d="M996 1193H1064V1029H1089" fill="none" stroke="#e8701a" stroke-width="1.800" marker-end="url(#oh)"/>
<path d="M1109 1038V1232H581V1184" fill="none" stroke="#f01010" stroke-width="2" marker-end="url(#rr)"/>
<text class="c" transform="translate(1117 806) rotate(90)" style="font-size:15px;fill:#0000ff">SCADA to SCADA</text>
<text class="c" transform="translate(1066 1119) rotate(90)" style="font-size:15px;fill:#e8701a">DER to SCADA</text>
<text class="c" transform="translate(1113 1120) rotate(90)" style="font-size:15px;fill:#f01010">SCADA to DER</text>
</g>
</svg>
